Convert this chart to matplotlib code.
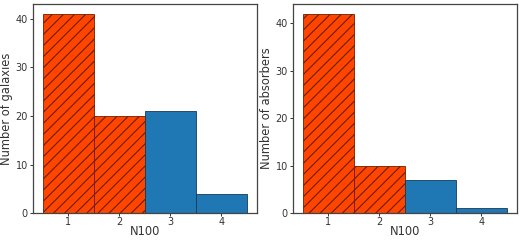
import numpy as np
import matplotlib.pyplot as plt
from matplotlib.ticker import MultipleLocator

# N100 bins and counts
n100 = [1, 2, 3, 4]
galaxies = [41, 20, 21, 4]
absorbers = [42, 10, 7, 1]
ylabels = ['Number of galaxies', 'Number of absorbers']

plt.rcParams['hatch.linewidth'] = 0.8

fig = plt.figure(figsize=(5.2, 2.4), dpi=100)
ax1 = fig.add_axes([0.063, 0.112, 0.431, 0.872])
ax2 = fig.add_axes([0.563, 0.112, 0.431, 0.872])

for ax, counts, ylab in zip([ax1, ax2], [galaxies, absorbers], ylabels):
    x = np.array(n100)
    c = np.array(counts)
    low = x <= 2
    ax.bar(x[low], c[low], width=1.0, color='#ff4500', edgecolor='#6a1f00',
           hatch='///', linewidth=0.6)
    ax.bar(x[~low], c[~low], width=1.0, color='#1f77b4', edgecolor='#1a3a55',
           linewidth=0.6)
    ax.set_xticks(n100)
    ax.yaxis.set_major_locator(MultipleLocator(10))
    ax.set_xlabel('N100', fontsize=8.3, color='#333333', labelpad=-1)
    ax.set_ylabel(ylab, fontsize=8.3, color='#333333', labelpad=2)
    ax.tick_params(labelsize=7, colors='#333333', length=2, width=0.7, pad=0.6)
    ax.tick_params(axis='y', pad=1.5)
    for s in ax.spines.values():
        s.set_color('#444444')
        s.set_linewidth(0.9)

fig.savefig('out.png', dpi=100)
